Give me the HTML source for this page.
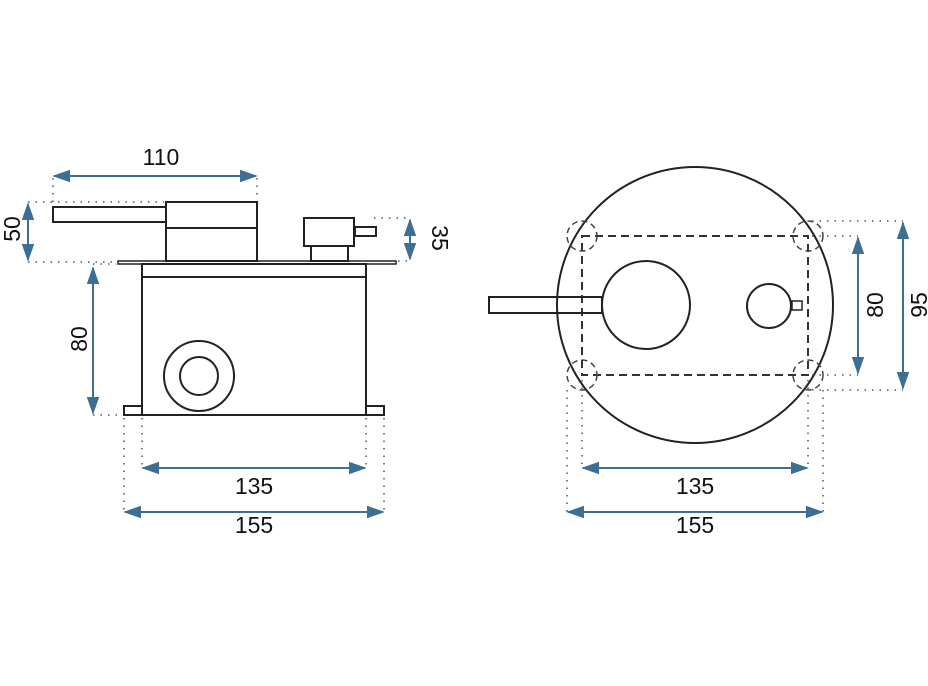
<!DOCTYPE html>
<html><head><style>body{margin:0;background:#fff}svg{display:block}</style></head><body>
<svg width="928" height="686" viewBox="0 0 928 686" xmlns="http://www.w3.org/2000/svg">
<defs>
<marker id="a" viewBox="0 0 10 10" refX="9" refY="5" markerWidth="9" markerHeight="9" orient="auto-start-reverse"><path d="M0,1.5L10,5L0,8.5z" fill="#3d6f95"/></marker>
</defs>
<g fill="none" stroke="#222" stroke-width="2">
<rect x="53" y="207" width="113" height="15"/>
<rect x="166" y="202" width="91" height="59"/>
<line x1="166" y1="228" x2="257" y2="228"/>
<rect x="304" y="218" width="50" height="28"/>
<rect x="311" y="246" width="37" height="15"/>
<rect x="355" y="227" width="21" height="9"/>
<rect x="118" y="261" width="278" height="3" stroke-width="1.5"/>
<rect x="142" y="264" width="224" height="151"/>
<line x1="142" y1="277" x2="366" y2="277"/>
<rect x="124" y="406" width="18" height="9"/>
<rect x="366" y="406" width="18" height="9"/>
<circle cx="199" cy="376" r="35"/>
<circle cx="199" cy="376" r="19"/>
<circle cx="695" cy="305" r="138"/>
<rect x="582" y="236" width="226" height="139" stroke-dasharray="8,5" stroke="#333"/>
<circle cx="646" cy="305" r="44"/>
<circle cx="769" cy="306" r="22"/>
<rect x="792" y="301" width="10" height="9" stroke-width="1.5"/>
<rect x="489" y="297" width="113" height="16"/>
<g stroke-dasharray="6,4" stroke-width="1.5" stroke="#444">
<circle cx="582" cy="236" r="15"/><circle cx="808" cy="236" r="15"/>
<circle cx="582" cy="375" r="15"/><circle cx="808" cy="375" r="15"/>
</g>
</g>
<g stroke="#555" stroke-width="1.5" stroke-dasharray="1.5,6" fill="none">
<line x1="53" y1="178" x2="53" y2="205"/>
<line x1="257" y1="178" x2="257" y2="200"/>
<line x1="28" y1="202" x2="164" y2="202"/>
<line x1="28" y1="262" x2="116" y2="262"/>
<line x1="93" y1="264" x2="116" y2="264"/>
<line x1="93" y1="415" x2="122" y2="415"/>
<line x1="374" y1="218" x2="410" y2="218"/>
<line x1="398" y1="261" x2="410" y2="261"/>
<line x1="124" y1="418" x2="124" y2="512"/>
<line x1="142" y1="418" x2="142" y2="468"/>
<line x1="366" y1="418" x2="366" y2="468"/>
<line x1="384" y1="418" x2="384" y2="512"/>
<line x1="812" y1="221" x2="903" y2="221"/>
<line x1="812" y1="236" x2="858" y2="236"/>
<line x1="812" y1="375" x2="858" y2="375"/>
<line x1="812" y1="390" x2="903" y2="390"/>
<line x1="567" y1="390" x2="567" y2="512"/>
<line x1="582" y1="380" x2="582" y2="468"/>
<line x1="808" y1="380" x2="808" y2="468"/>
<line x1="823" y1="390" x2="823" y2="512"/>
</g>
<g stroke="#3d6f95" stroke-width="2" marker-start="url(#a)" marker-end="url(#a)">
<line x1="54" y1="176" x2="256" y2="176"/>
<line x1="28" y1="204" x2="28" y2="260"/>
<line x1="410" y1="220" x2="410" y2="259"/>
<line x1="93" y1="268" x2="93" y2="413"/>
<line x1="143" y1="468" x2="365" y2="468"/>
<line x1="125" y1="512" x2="383" y2="512"/>
<line x1="858" y1="238" x2="858" y2="373"/>
<line x1="903" y1="223" x2="903" y2="388"/>
<line x1="583" y1="468" x2="807" y2="468"/>
<line x1="568" y1="512" x2="822" y2="512"/>
</g>
<g font-family="Liberation Sans, sans-serif" font-size="23" fill="#111" text-anchor="middle">
<text x="161" y="165">110</text>
<text x="254" y="494">135</text>
<text x="254" y="533">155</text>
<text x="695" y="494">135</text>
<text x="695" y="533">155</text>
<text transform="translate(20,229) rotate(-90)">50</text>
<text transform="translate(87,339) rotate(-90)">80</text>
<text transform="translate(432,238) rotate(90)">35</text>
<text transform="translate(883,305) rotate(-90)">80</text>
<text transform="translate(927,305) rotate(-90)">95</text>
</g>
</svg>
</body></html>
